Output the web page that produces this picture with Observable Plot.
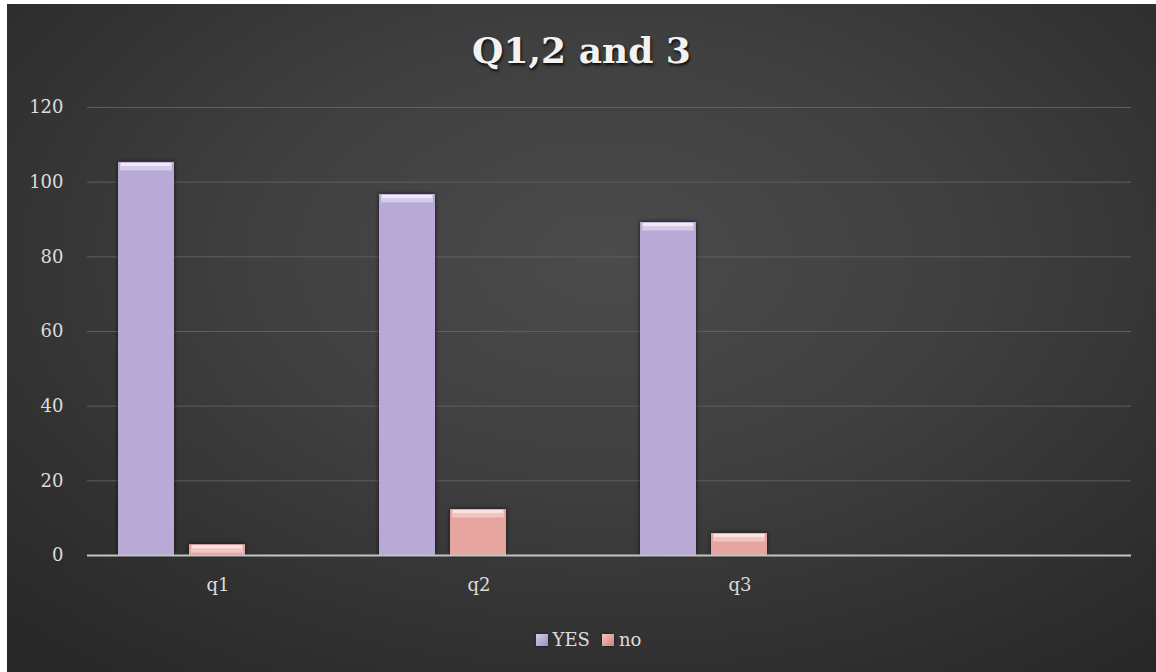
<!DOCTYPE html>
<html>
<head>
<meta charset="utf-8">
<script src="https://cdn.jsdelivr.net/npm/d3@7"></script>
<script src="https://cdn.jsdelivr.net/npm/@observablehq/plot@0.6"></script>
<style>
  html, body { margin: 0; padding: 0; background: #ffffff; }
  #page { position: relative; width: 1156px; height: 672px; background: #ffffff; overflow: hidden; }
  #chart {
    position: absolute; left: 7px; top: 4px; width: 1149px; height: 668px;
    background: radial-gradient(ellipse 75% 80% at 52% 38%, #4b4b4b 0%, #404040 40%, #333333 70%, #272727 100%);
    overflow: hidden;
  }
  #title {
    position: absolute; left: 0; top: 28px; width: 1149px; text-align: center;
    font-family: "DejaVu Serif", serif; font-weight: bold; font-size: 36px; line-height: 36px;
    color: #f2f2f2; text-shadow: 1px 2px 3px rgba(0,0,0,0.85);
  }
  #plot { position: absolute; left: 0; top: 0; }
  #plot svg g[aria-label="bar"] rect { filter: drop-shadow(0px 0px 2px rgba(0,0,0,0.7)); }
  #legend {
    position: absolute; left: 0; top: 625px; width: 1149px; display: flex; justify-content: center;
    align-items: center; gap: 12px; font-family: "DejaVu Serif", serif; font-size: 18px; color: #dcdcdc;
    padding-left: 14px; box-sizing: border-box;
  }
  .item { display: flex; align-items: center; gap: 5px; }
  .sw { width: 12px; height: 12px; display: inline-block; box-shadow: 0 0 2px rgba(0,0,0,0.6); }
</style>
</head>
<body>
<div id="page">
  <div id="chart">
    <div id="title"></div>
    <div id="plot"></div>
    <div id="legend"></div>
  </div>
</div>
<script>
const titleText = "Q1,2 and 3";
const categories = ["q1", "q2", "q3", ""];
const seriesNames = ["YES", "no", ""];
const yesValues = [105.3, 96.7, 89.2, null];
const noValues = [2.9, 12.3, 5.9, null];
const yTicks = [0, 20, 40, 60, 80, 100, 120];

const colors = {
  YES: {fill: "#b9a9d7", bevel: "#d6cbe8", hi: "#f1e9f7", legend: "linear-gradient(135deg,#d9cdea,#9f8cc4)"},
  no: {fill: "#e6a59f", bevel: "#f0c4bf", hi: "#fbe3df", legend: "linear-gradient(135deg,#f3c8c3,#cf7f7a)"}
};

const rows = categories.flatMap((c, i) => [
  {cat: c, s: "YES", v: yesValues[i]},
  {cat: c, s: "no", v: noValues[i]}
]);

document.getElementById("title").textContent = titleText;

const marks = [
  Plot.ruleY(yTicks.filter(d => d !== 0), {stroke: "#5f5f5f", strokeWidth: 1})
];
for (const s of ["YES", "no"]) {
  const data = rows.filter(d => d.s === s);
  marks.push(Plot.barY(data, {fx: "cat", x: "s", y: "v", fill: colors[s].fill}));
  marks.push(Plot.tickY(data, {fx: "cat", x: "s", y: "v", stroke: colors[s].bevel, strokeWidth: 8, dy: 4, insetLeft: 2, insetRight: 2}));
  marks.push(Plot.tickY(data, {fx: "cat", x: "s", y: "v", stroke: colors[s].hi, strokeWidth: 3, dy: 2, insetLeft: 3, insetRight: 3}));
}
marks.push(Plot.ruleY([0], {stroke: "#c4c4c4", strokeWidth: 2}));
marks.push(Plot.axisY(yTicks, {anchor: "left", tickSize: 0, tickPadding: 24, label: null, fill: "#dcdcdc", fontSize: 18}));
marks.push(Plot.axisFx({anchor: "bottom", tickSize: 0, tickPadding: 23, label: null, fill: "#dcdcdc", fontSize: 18}));

const plot = Plot.plot({
  width: 1149,
  height: 600,
  marginLeft: 79,
  marginRight: 25,
  marginTop: 103,
  marginBottom: 49,
  style: {background: "transparent", fontFamily: "DejaVu Serif, serif", fontSize: "18px", color: "#dcdcdc"},
  fx: {domain: categories, padding: 0, label: null},
  x: {domain: seriesNames, paddingInner: 0.208, paddingOuter: 0.418, axis: null},
  y: {domain: [0, 120], axis: null},
  marks
});
document.getElementById("plot").appendChild(plot);

const legend = document.getElementById("legend");
for (const s of ["YES", "no"]) {
  const item = document.createElement("div");
  item.className = "item";
  const sw = document.createElement("span");
  sw.className = "sw";
  sw.style.background = colors[s].legend;
  const t = document.createElement("span");
  t.textContent = s;
  item.appendChild(sw);
  item.appendChild(t);
  legend.appendChild(item);
}
</script>
</body>
</html>
